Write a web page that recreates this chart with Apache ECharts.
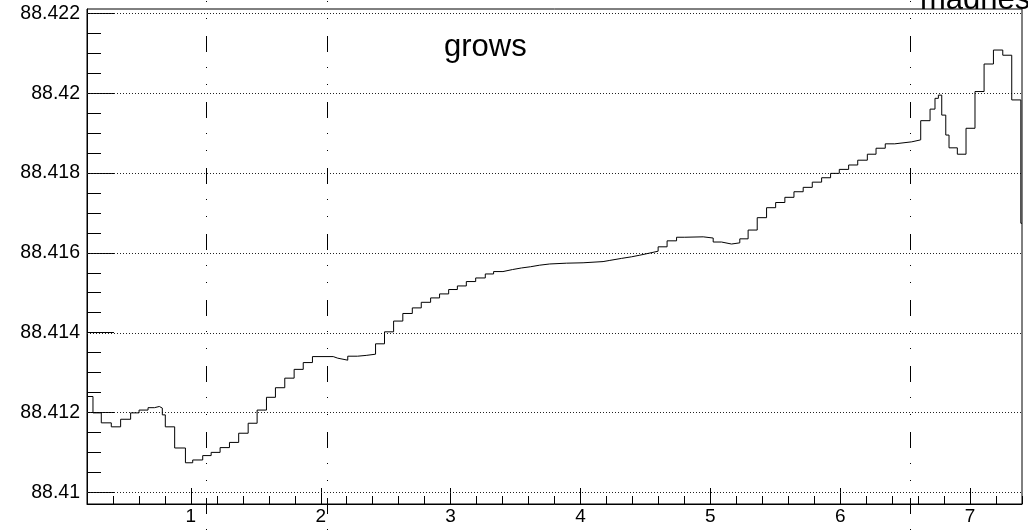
<!DOCTYPE html>
<html>
<head>
<meta charset="utf-8">
<script src="https://cdn.jsdelivr.net/npm/echarts@6/dist/echarts.min.js"></script>
<style>
html,body{margin:0;padding:0;background:#fff;}
#chart{width:1028px;height:530px;}
</style>
</head>
<body>
<div id="chart"></div>
<script>
// ---- data ----
const binX = [0.200, 0.246, 0.310, 0.387, 0.459, 0.536, 0.601, 0.670, 0.719, 0.757,
  0.780, 0.803, 0.875, 0.958, 1.014, 1.091, 1.156, 1.225, 1.297, 1.368,
  1.441, 1.510, 1.582, 1.651, 1.723, 1.795, 1.865, 1.936, 2.096, 2.131,
  2.208, 2.283, 2.350, 2.422, 2.491, 2.561, 2.632, 2.705, 2.774, 2.846,
  2.915, 2.985, 3.052, 3.121, 3.193, 3.267, 3.331, 3.403, 3.476, 3.545,
  3.614, 3.686, 3.763, 3.892, 4.020, 4.174, 4.226, 4.316, 4.393, 4.457,
  4.528, 4.598, 4.667, 4.740, 4.803, 4.945, 5.022, 5.086, 5.163, 5.227,
  5.291, 5.361, 5.433, 5.503, 5.574, 5.644, 5.715, 5.785, 5.857, 5.926,
  5.993, 6.065, 6.135, 6.209, 6.276, 6.347, 6.420, 6.551, 6.620, 6.692,
  6.730, 6.756, 6.782, 6.813, 6.838, 6.902, 6.969, 7.038, 7.108, 7.180,
  7.252, 7.321, 7.391, 7.400];
const binY = [88.41240, 88.41199, 88.41174, 88.41164, 88.41183, 88.41199, 88.41206, 88.41212, 88.41215, 88.41211,
  88.41194, 88.41164, 88.41111, 88.41074, 88.41081, 88.41092, 88.41100, 88.41112, 88.41125, 88.41148,
  88.41173, 88.41206, 88.41238, 88.41262, 88.41286, 88.41308, 88.41325, 88.41340, 88.41336, 88.41331,
  88.41341, 88.41343, 88.41346, 88.41372, 88.41402, 88.41429, 88.41448, 88.41462, 88.41476, 88.41487,
  88.41497, 88.41508, 88.41517, 88.41528, 88.41537, 88.41547, 88.41553, 88.41558, 88.41562, 88.41565,
  88.41569, 88.41572, 88.41574, 88.41575, 88.41578, 88.41581, 88.41586, 88.41590, 88.41594, 88.41599,
  88.41604, 88.41615, 88.41630, 88.41639, 88.41640, 88.41637, 88.41627, 88.41622, 88.41625, 88.41635,
  88.41657, 88.41688, 88.41713, 88.41726, 88.41739, 88.41753, 88.41764, 88.41777, 88.41788, 88.41799,
  88.41809, 88.41820, 88.41832, 88.41847, 88.41862, 88.41873, 88.41878, 88.41883, 88.41931, 88.41960,
  88.41987, 88.41995, 88.41945, 88.41895, 88.41863, 88.41847, 88.41912, 88.42004, 88.42073, 88.42108,
  88.42095, 88.41983, 88.41674, 88.41674];
const markerX = [1.116, 2.048, 6.534];
const xMajor = [1, 2, 3, 4, 5, 6, 7];
const xMajorLabels = ['1', '2', '3', '4', '5', '6', '7'];
const xMinor = [0.4, 0.6, 0.8, 1.2, 1.4, 1.6, 1.8, 2.2, 2.4, 2.6, 2.8, 3.2, 3.4, 3.6, 3.8,
  4.2, 4.4, 4.6, 4.8, 5.2, 5.4, 5.6, 5.8, 6.2, 6.4, 6.6, 6.8, 7.2, 7.4];
const yMajor = [88.41, 88.412, 88.414, 88.416, 88.418, 88.42, 88.422];
const yMajorLabels = ['88.41', '88.412', '88.414', '88.416', '88.418', '88.42', '88.422'];
const yMinor = [88.4100, 88.4105, 88.4110, 88.4115, 88.4125, 88.4130, 88.4135, 88.4145, 88.4150, 88.4155,
  88.4165, 88.4170, 88.4175, 88.4185, 88.4190, 88.4195, 88.4205, 88.4210, 88.4215];
const annotations = [{text: 'grows'}, {text: 'madness'}];

const X_MIN = 0.2, X_MAX = 7.4;
const Y_MIN = 88.409707, Y_MAX = 88.422108;
const FONT = '"Liberation Sans", Arial, Helvetica, sans-serif';

const lineData = binX.map((x, i) => [x, binY[i]]);

const chart = echarts.init(document.getElementById('chart'), null, {renderer: 'canvas'});
chart.setOption({
  animation: false,
  backgroundColor: '#fff',
  grid: {left: 87, right: 6, top: 9, bottom: 26, containLabel: false, outerBoundsMode: 'none',
    show: true, borderColor: '#000', borderWidth: 1, backgroundColor: 'transparent'},
  xAxis: [{
    type: 'value', min: X_MIN, max: X_MAX, position: 'bottom',
    axisLine: {show: true, onZero: false, lineStyle: {color: '#000', width: 1}},
    axisTick: {show: true, inside: true, length: 16, customValues: xMajor, lineStyle: {color: '#000'}},
    axisLabel: {show: true, customValues: xMajor, margin: 3, fontSize: 19, color: '#000', fontFamily: FONT,
      formatter: v => xMajorLabels[xMajor.indexOf(Math.round(v))] || ''},
    splitLine: {show: false}
  }, {
    type: 'value', min: X_MIN, max: X_MAX, position: 'bottom',
    axisLine: {show: false, onZero: false},
    axisTick: {show: true, inside: true, length: 8, customValues: xMinor, lineStyle: {color: '#000'}},
    axisLabel: {show: false},
    splitLine: {show: false}
  }],
  yAxis: [{
    type: 'value', min: Y_MIN, max: Y_MAX, position: 'left',
    axisLine: {show: true, onZero: false, lineStyle: {color: '#000', width: 1}},
    axisTick: {show: true, inside: true, length: 27, customValues: yMajor, lineStyle: {color: '#000'}},
    axisLabel: {show: true, customValues: yMajor, margin: 7, fontSize: 19.5, color: '#000', fontFamily: FONT,
      formatter: v => {
        let best = 0;
        yMajor.forEach((t, i) => { if (Math.abs(t - v) < Math.abs(yMajor[best] - v)) best = i; });
        return yMajorLabels[best];
      }},
    splitLine: {show: false}
  }, {
    type: 'value', min: Y_MIN, max: Y_MAX, position: 'left',
    axisLine: {show: false, onZero: false},
    axisTick: {show: true, inside: true, length: 14, customValues: yMinor, lineStyle: {color: '#000'}},
    axisLabel: {show: false},
    splitLine: {show: false}
  }],
  series: [{
    type: 'custom',
    name: 'grid',
    xAxisIndex: 0, yAxisIndex: 0,
    silent: true,
    data: yMajor.map(v => [X_MIN, v]),
    renderItem: function (params, api) {
      const p1 = api.coord([X_MIN, api.value(1)]);
      const p2 = api.coord([X_MAX, api.value(1)]);
      const py = Math.round(p1[1]) + 0.5;
      return {
        type: 'line',
        shape: {x1: p1[0], y1: py, x2: p2[0], y2: py},
        style: {stroke: '#222', lineWidth: 1, lineDash: [1, 2]}
      };
    },
    z: 1
  }, {
    type: 'line',
    xAxisIndex: 0, yAxisIndex: 0,
    step: 'end',
    data: lineData,
    showSymbol: false,
    symbol: 'none',
    lineStyle: {color: '#000', width: 1},
    z: 5
  }, {
    type: 'custom',
    xAxisIndex: 0, yAxisIndex: 0,
    clip: false,
    silent: true,
    data: markerX.map(v => [v, Y_MIN]),
    renderItem: function (params, api) {
      const px = Math.round(api.coord([api.value(0), api.value(1)])[0]) + 0.5;
      return {
        type: 'line',
        shape: {x1: px, y1: 0, x2: px, y2: api.getHeight()},
        style: {stroke: '#000', lineWidth: 1, lineDash: [16, 15, 1, 16, 1, 17], lineDashOffset: 30}
      };
    },
    z: 4
  }],
  graphic: [{
    type: 'text', left: 444, top: 43.3 - 15.5 + 4, silent: true,
    style: {text: annotations[0].text, font: '31px ' + FONT, fill: '#000'}
  }, {
    type: 'text', left: 920, top: -2.2 - 15.5 + 3, silent: true,
    style: {text: annotations[1].text, font: '31px ' + FONT, fill: '#000'}
  }]
});
</script>
</body>
</html>
